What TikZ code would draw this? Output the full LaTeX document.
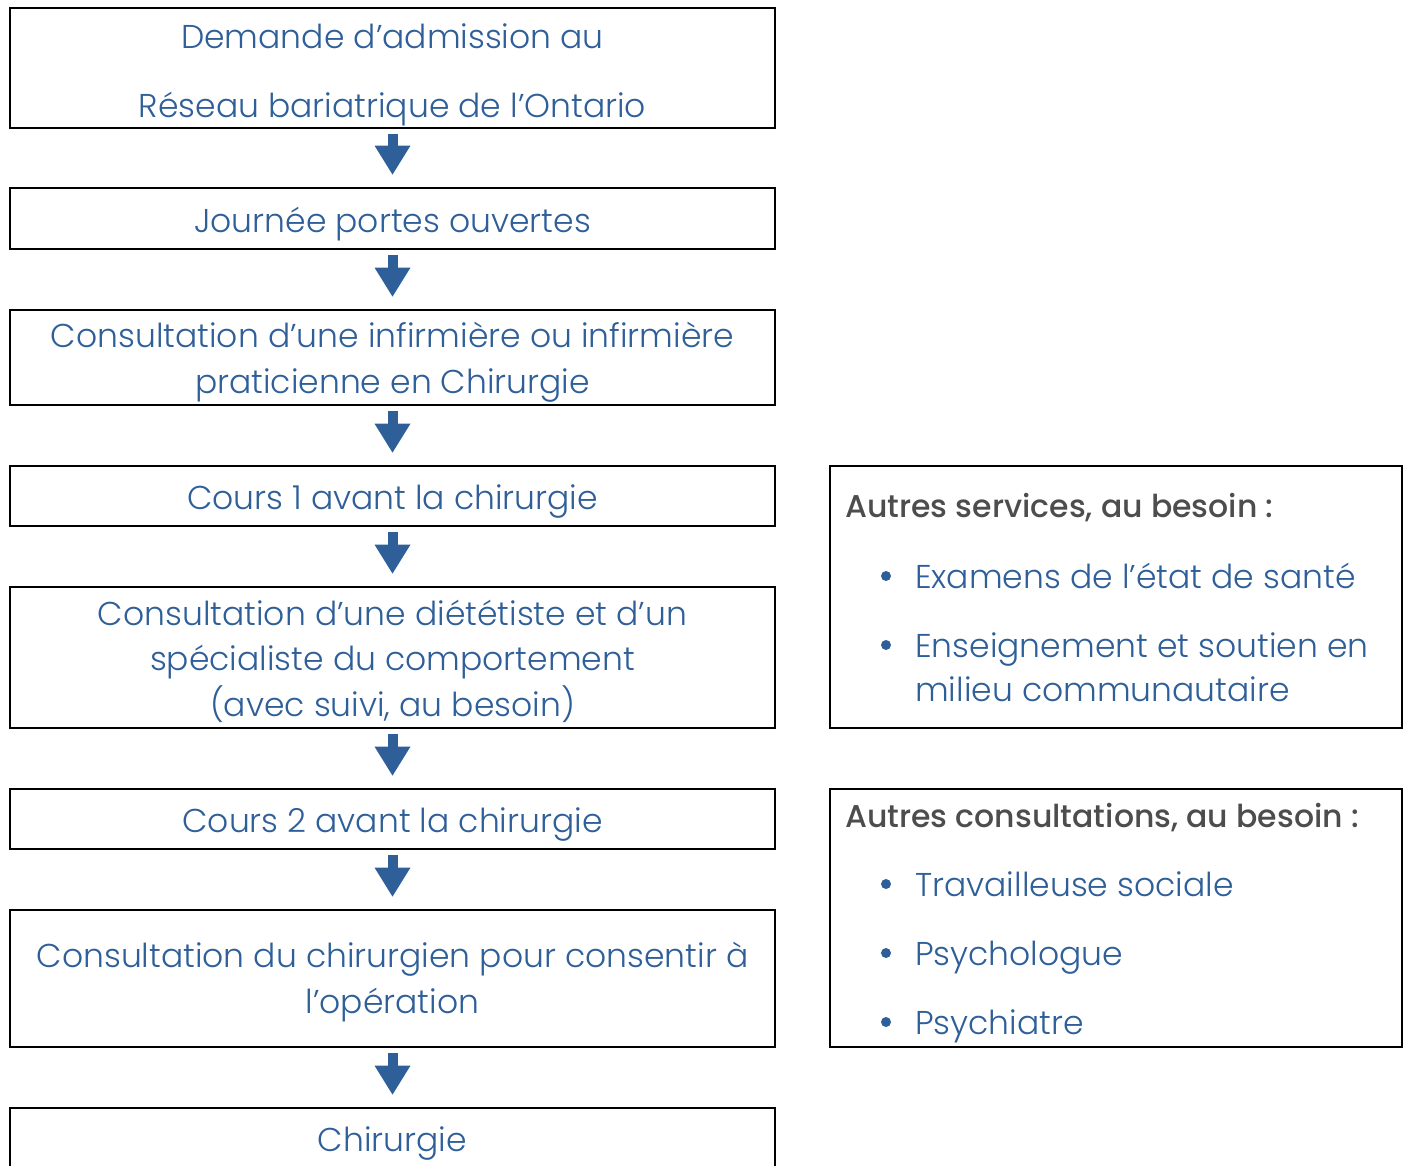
\documentclass[tikz,border=0pt]{standalone}
\usepackage{fontspec}
\setmainfont{Poppins}[UprightFont=* Light, BoldFont=* Medium]
\usetikzlibrary{arrows.meta,positioning}
\definecolor{ontblue}{HTML}{2F5F99}
\definecolor{headgrey}{HTML}{4D4D4D}

\tikzset{
  stepbox/.style={draw=black, line width=2.8pt, minimum width=765pt, inner sep=0pt},
  sidebox/.style={draw=black, line width=2.8pt, minimum width=572pt, inner sep=0pt},
  steptext/.style={anchor=base, text=ontblue, inner sep=0pt, align=center,
    font=\fontsize{33}{45.5}\selectfont},
  headtext/.style={anchor=base west, text=headgrey, inner sep=0pt,
    font=\fontsize{31.5}{40}\bfseries},
  itemtext/.style={anchor=base west, text=ontblue, inner sep=0pt, align=left,
    font=\fontsize{33}{44}\selectfont},
  bulletdot/.style={circle, fill=ontblue, inner sep=0pt, minimum size=10pt},
  flowarrow/.style={ontblue, line width=10pt,
    -{Triangle[width=36pt,length=29pt,line width=0pt]},
    shorten <=5pt, shorten >=12pt}
}

\begin{document}
\begin{tikzpicture}[x=1pt,y=-1pt]
  \useasboundingbox (0,0) rectangle (1410,1165);
  \clip (0,0) rectangle (1410,1165);

  % main column
  \node[stepbox, minimum height=120pt] (demande) at (392.5,68) {};
  \node[stepbox, minimum height=61pt] (portes) at (392.5,218.5) {};
  \node[stepbox, minimum height=95pt] (infirm) at (392.5,357.5) {};
  \node[stepbox, minimum height=60pt] (cours1) at (392.5,496) {};
  \node[stepbox, minimum height=141pt] (dietet) at (392.5,657.5) {};
  \node[stepbox, minimum height=60pt] (cours2) at (392.5,819) {};
  \node[stepbox, minimum height=137pt] (chirurgien) at (392.5,978.5) {};
  \node[stepbox, minimum height=92pt] (chirurgie) at (392.5,1154) {};

  % texts (base = last line)
  \node[steptext] (t-demande1) at (392.5,48) {Demande d’admission au};
  \node[steptext] (t-demande2) at (392.5,117) {Réseau bariatrique de l’Ontario};
  \node[steptext] (t-portes) at (392.5,232) {Journée portes ouvertes};
  \node[steptext] (t-infirm) at (392.5,393) {Consultation d’une infirmière ou infirmière\\praticienne en Chirurgie};
  \node[steptext] (t-cours1) at (392.5,509) {Cours 1 avant la chirurgie};
  \node[steptext] (t-dietet) at (392.5,716) {Consultation d’une diététiste et d’un\\spécialiste du comportement\\(avec suivi, au besoin)};
  \node[steptext] (t-cours2) at (392.5,832) {Cours 2 avant la chirurgie};
  \node[steptext] (t-chirurgien) at (392.5,1013) {Consultation du chirurgien pour consentir à\\l’opération};
  \node[steptext] (t-chirurgie) at (392.5,1151) {Chirurgie};

  \draw[flowarrow] (demande.south) -- (portes.north);
  \draw[flowarrow] (portes.south) -- (infirm.north);
  \draw[flowarrow] (infirm.south) -- (cours1.north);
  \draw[flowarrow] (cours1.south) -- (dietet.north);
  \draw[flowarrow] (dietet.south) -- (cours2.north);
  \draw[flowarrow] (cours2.south) -- (chirurgien.north);
  \draw[flowarrow] (chirurgien.south) -- (chirurgie.north);

  % side boxes
  \node[sidebox, minimum height=262pt] (services) at (1116,597) {};
  \node[headtext] (h-services) at (845,517) {Autres services, au besoin :};
  \node[bulletdot] (b-examens) at (886,576) {};
  \node[itemtext] (i-examens) at (915,588) {Examens de l’état de santé};
  \node[bulletdot] (b-enseign) at (886,645) {};
  \node[itemtext] (i-enseign) at (915,701) {Enseignement et soutien en\\milieu communautaire};

  \node[sidebox, minimum height=258pt] (consult) at (1116,918) {};
  \node[headtext] (h-consult) at (845,827) {Autres consultations, au besoin :};
  \node[bulletdot] (b-travail) at (886,884) {};
  \node[itemtext] (i-travail) at (915,896) {Travailleuse sociale};
  \node[bulletdot] (b-psycho) at (886,953) {};
  \node[itemtext] (i-psycho) at (915,965) {Psychologue};
  \node[bulletdot] (b-psychi) at (886,1022) {};
  \node[itemtext] (i-psychi) at (915,1034) {Psychiatre};
\end{tikzpicture}
\end{document}
